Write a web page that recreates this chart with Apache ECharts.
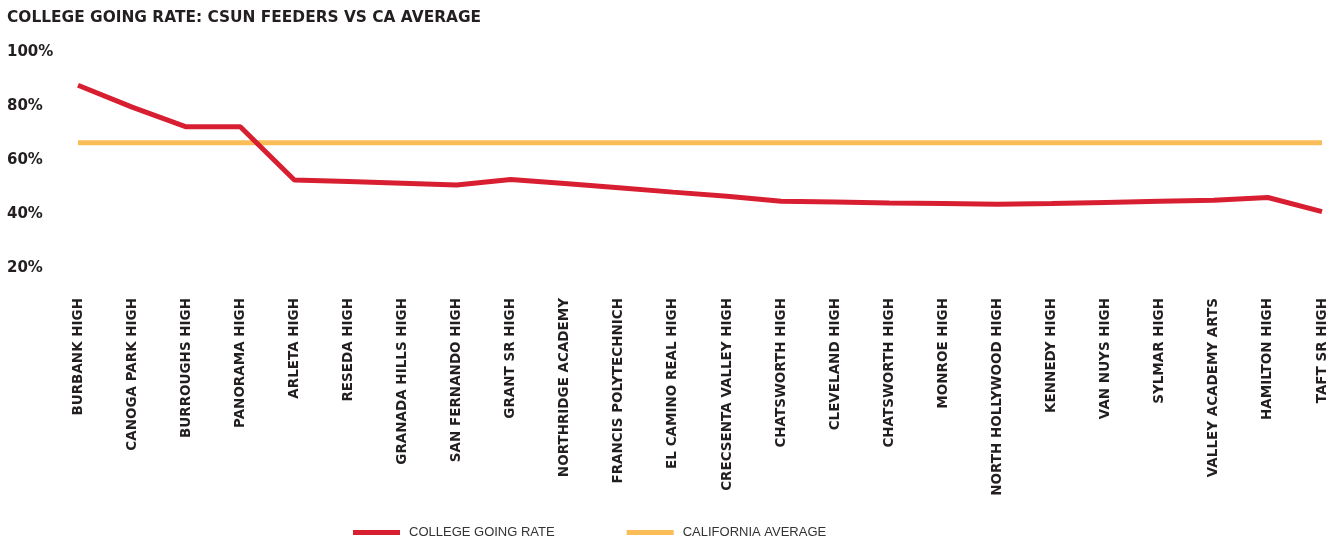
<!DOCTYPE html>
<html>
<head>
<meta charset="utf-8">
<script src="https://cdn.jsdelivr.net/npm/echarts@6/dist/echarts.min.js"></script>
<style>
html,body{margin:0;padding:0;background:#fff;}
#chart{width:1340px;height:540px;}
</style>
</head>
<body>
<div id="chart"></div>
<script>
const schools = [
  'BURBANK HIGH','CANOGA PARK HIGH','BURROUGHS HIGH','PANORAMA HIGH','ARLETA HIGH',
  'RESEDA HIGH','GRANADA HILLS HIGH','SAN FERNANDO HIGH','GRANT SR HIGH','NORTHRIDGE ACADEMY',
  'FRANCIS POLYTECHNICH','EL CAMINO REAL HIGH','CRECSENTA VALLEY HIGH','CHATSWORTH HIGH','CLEVELAND HIGH',
  'CHATSWORTH HIGH ','MONROE HIGH','NORTH HOLLYWOOD HIGH','KENNEDY HIGH','VAN NUYS HIGH',
  'SYLMAR HIGH','VALLEY ACADEMY ARTS','HAMILTON HIGH','TAFT SR HIGH'
];
const collegeGoingRate = [
  87.7, 79.6, 72.3, 72.3, 52.6,
  52.0, 51.4, 50.7, 52.8, 51.3,
  49.7, 48.1, 46.6, 44.7, 44.4,
  44.1, 43.9, 43.6, 43.9, 44.3,
  44.7, 45.1, 46.1, 40.9
];
const californiaAverage = [
  66.4, 66.4, 66.4, 66.4, 66.4,
  66.4, 66.4, 66.4, 66.4, 66.4,
  66.4, 66.4, 66.4, 66.4, 66.4,
  66.4, 66.4, 66.4, 66.4, 66.4,
  66.4, 66.4, 66.4, 66.4
];
const yTicks = [20, 40, 60, 80, 100];

const chart = echarts.init(document.getElementById('chart'), null, {renderer: 'canvas'});
chart.setOption({
  animation: false,
  backgroundColor: '#ffffff',
  title: {
    text: 'COLLEGE GOING RATE: CSUN FEEDERS VS CA AVERAGE',
    left: 7, top: 10, padding: 0,
    textStyle: {fontFamily: 'DejaVu Sans', fontWeight: 'bold', fontSize: 15.4, color: '#231f20'}
  },
  legend: {
    left: 353, top: 526, padding: 0,
    itemWidth: 47, itemHeight: 5, itemGap: 72,
    icon: 'rect',
    textStyle: {fontFamily: 'Liberation Sans', fontSize: 13, color: '#333333', padding: [0,0,0,4]},
    data: ['COLLEGE GOING RATE', 'CALIFORNIA AVERAGE']
  },
  grid: {left: 78, right: 18, top: 52, bottom: 272, containLabel: false},
  xAxis: {
    type: 'category',
    data: schools,
    boundaryGap: false,
    axisLine: {show: false},
    axisTick: {show: false},
    splitLine: {show: false},
    axisLabel: {
      rotate: 90, margin: 30, interval: 0,
      fontFamily: 'DejaVu Sans', fontWeight: 'bold', fontSize: 13.5, color: '#231f20',
      formatter: v => v.trim()
    }
  },
  yAxis: {
    type: 'value',
    min: yTicks[0], max: yTicks[yTicks.length - 1], interval: 20,
    axisLine: {show: false},
    axisTick: {show: false},
    splitLine: {show: false},
    axisLabel: {
      align: 'left', margin: 71,
      fontFamily: 'DejaVu Sans', fontWeight: 'bold', fontSize: 15, color: '#231f20',
      formatter: v => v + '%'
    }
  },
  series: [
    {
      name: 'CALIFORNIA AVERAGE', type: 'line', data: californiaAverage,
      showSymbol: false, symbol: 'none',
      lineStyle: {color: '#fbbd57', width: 5},
      itemStyle: {color: '#fbbd57'},
      z: 2
    },
    {
      name: 'COLLEGE GOING RATE', type: 'line', data: collegeGoingRate,
      showSymbol: false, symbol: 'none',
      lineStyle: {color: '#d81f32', width: 5},
      itemStyle: {color: '#d81f32'},
      z: 3
    }
  ]
});
</script>
</body>
</html>
